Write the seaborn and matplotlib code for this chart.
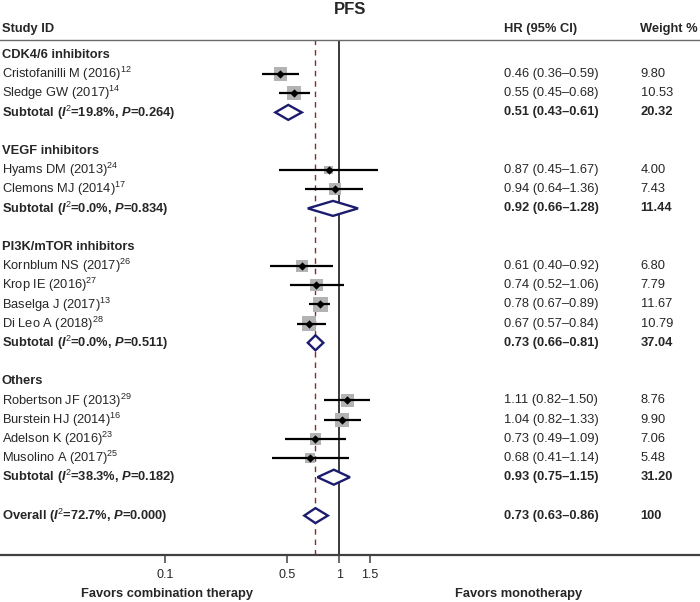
import numpy as np
import pandas as pd
import matplotlib
matplotlib.use("Agg")
import matplotlib.pyplot as plt
from matplotlib.transforms import blended_transform_factory
import seaborn as sns

# ---------------- data ----------------
groups = ["CDK4/6 inhibitors", "VEGF inhibitors", "PI3K/mTOR inhibitors", "Others"]

study_labels = [
    "Cristofanilli M (2016)", "Sledge GW (2017)",
    "Hyams DM (2013)", "Clemons MJ (2014)",
    "Kornblum NS (2017)", "Krop IE (2016)", "Baselga J (2017)", "Di Leo A (2018)",
    "Robertson JF (2013)", "Burstein HJ (2014)", "Adelson K (2016)", "Musolino A (2017)",
]
study_refs = ["12", "14", "24", "17", "26", "27", "13", "28", "29", "16", "23", "25"]
study_group = [0, 0, 1, 1, 2, 2, 2, 2, 3, 3, 3, 3]
study_hr = [0.46, 0.55, 0.87, 0.94, 0.61, 0.74, 0.78, 0.67, 1.11, 1.04, 0.73, 0.68]
study_lo = [0.36, 0.45, 0.45, 0.64, 0.40, 0.52, 0.67, 0.57, 0.82, 0.82, 0.49, 0.41]
study_hi = [0.59, 0.68, 1.67, 1.36, 0.92, 1.06, 0.89, 0.84, 1.50, 1.33, 1.09, 1.14]
study_w = [9.80, 10.53, 4.00, 7.43, 6.80, 7.79, 11.67, 10.79, 8.76, 9.90, 7.06, 5.48]

sub_i2 = ["19.8", "0.0", "0.0", "38.3"]
sub_p = ["0.264", "0.834", "0.511", "0.182"]
sub_hr = [0.51, 0.92, 0.73, 0.93]
sub_lo = [0.43, 0.66, 0.66, 0.75]
sub_hi = [0.61, 1.28, 0.81, 1.15]
sub_w = [20.32, 11.44, 37.04, 31.20]

overall_i2 = "72.7"
overall_p = "0.000"
overall_hr = 0.73
overall_lo = 0.63
overall_hi = 0.86
overall_w = 100

tick_values = [0.1, 0.5, 1, 1.5]
tick_labels = ["0.1", "0.5", "1", "1.5"]

# ---------------- style ----------------
sns.set_theme(style="white")
plt.rcParams["font.family"] = ["Liberation Sans", "DejaVu Sans"]
plt.rcParams["mathtext.fontset"] = "custom"
plt.rcParams["mathtext.rm"] = "Liberation Sans"
plt.rcParams["mathtext.it"] = "Liberation Sans:italic"
plt.rcParams["mathtext.bf"] = "Liberation Sans:bold"
plt.rcParams["mathtext.bfit"] = "Liberation Sans:bold:italic"

FS = 9.3
W, H = 700, 602
fig = plt.figure(figsize=(7, 6.02), dpi=100)

# row geometry (pixel y = ROW0 + ROWH * k)
ROW0, ROWH = 54.8, 19.2
top_px, bot_px = 40, 555
k_top = (top_px - ROW0) / ROWH
k_bot = (bot_px - ROW0) / ROWH
ax = fig.add_axes([0, 1 - bot_px / H, 1, (bot_px - top_px) / H])

# x scale: log, 1 at px 339.3, 75.8 px per ln unit
X1, PXL = 339.3, 75.8
ax.set_xscale("log")
ax.set_xlim(np.exp(-X1 / PXL), np.exp((W - X1) / PXL))
ax.set_ylim(k_bot, k_top)

# build rows
rows_study = []
rows_sub = []
header_rows = []
k = 0
for g in range(len(groups)):
    header_rows.append(k)
    k += 1
    for i, sg in enumerate(study_group):
        if sg == g:
            rows_study.append(k)
            k += 1
    rows_sub.append(k)
    k += 2
row_overall = k

df = pd.DataFrame({
    "label": study_labels, "hr": study_hr, "lo": study_lo, "hi": study_hi,
    "w": study_w, "row": rows_study,
})

# reference lines
ax.axvline(1, color="#3a3a3a", lw=1.4, zorder=1)
ax.axvline(overall_hr, color="#8b2a2a", lw=1.0, ls=(0, (4, 3.5)), zorder=1)

# study squares sized by weight (area proportional)
sns.scatterplot(data=df, x="hr", y="row", size="w", sizes=(0, 1000), size_norm=(0, 100),
                marker="s", color="#b3b3b3", linewidth=0, legend=False, ax=ax, zorder=2)
ax.hlines(df["row"], df["lo"], df["hi"], color="black", lw=1.6, zorder=3)
sns.scatterplot(data=df, x="hr", y="row", marker="D", color="black", s=18,
                linewidth=0, legend=False, ax=ax, zorder=4)

# diamonds
def diamond(row, hr, lo, hi):
    h = 0.39
    ax.fill([lo, hr, hi, hr, lo], [row, row - h, row, row + h, row],
            facecolor="white", edgecolor="#1c1c6e", lw=1.7, zorder=5, joinstyle="miter")

for g in range(len(groups)):
    diamond(rows_sub[g], sub_hr[g], sub_lo[g], sub_hi[g])
diamond(row_overall, overall_hr, overall_lo, overall_hi)

# spines / ticks
for s in ["left", "right"]:
    ax.spines[s].set_visible(False)
ax.spines["top"].set_color("#6a6a6a")
ax.spines["top"].set_linewidth(1.0)
ax.spines["bottom"].set_color("#404040")
ax.spines["bottom"].set_linewidth(1.6)
ax.set_yticks([])
ax.xaxis.set_minor_locator(matplotlib.ticker.NullLocator())
ax.set_xticks(tick_values)
ax.set_xticklabels(tick_labels)
ax.tick_params(axis="x", which="major", direction="out", length=5.8, width=1.1,
               color="#404040", labelsize=9, pad=4, bottom=True)
ax.set_xlabel("")
ax.set_ylabel("")

# texts
tr = blended_transform_factory(ax.transAxes, ax.transData)
X_LAB, X_HR, X_W = 2 / W, 504 / W, 640.5 / W

def fmt_ci(hr, lo, hi):
    return f"{hr:.2f} ({lo:.2f}\u2013{hi:.2f})"

for g, r in enumerate(header_rows):
    ax.text(X_LAB, r, groups[g], transform=tr, ha="left", va="center",
            fontsize=FS, fontweight="bold")

for i in range(len(df)):
    r = rows_study[i]
    ax.text(X_LAB, r, study_labels[i] + r"$^{\mathrm{" + study_refs[i] + "}}$",
            transform=tr, ha="left", va="center", fontsize=FS)
    ax.text(X_HR, r, fmt_ci(study_hr[i], study_lo[i], study_hi[i]),
            transform=tr, ha="left", va="center", fontsize=FS)
    ax.text(X_W, r, f"{study_w[i]:.2f}", transform=tr, ha="left", va="center", fontsize=FS)

for g in range(len(groups)):
    r = rows_sub[g]
    lab = (r"Subtotal ($\mathbfit{I}^{\mathrm{2}}$=" + sub_i2[g] + r"%, $\mathbfit{P}$="
           + sub_p[g] + ")")
    ax.text(X_LAB, r, lab, transform=tr, ha="left", va="center", fontsize=FS,
            fontweight="bold")
    ax.text(X_HR, r, fmt_ci(sub_hr[g], sub_lo[g], sub_hi[g]), transform=tr,
            ha="left", va="center", fontsize=FS, fontweight="bold")
    ax.text(X_W, r, f"{sub_w[g]:.2f}", transform=tr, ha="left", va="center",
            fontsize=FS, fontweight="bold")

lab = (r"Overall ($\mathbfit{I}^{\mathrm{2}}$=" + overall_i2 + r"%, $\mathbfit{P}$="
       + overall_p + ")")
ax.text(X_LAB, row_overall, lab, transform=tr, ha="left", va="center", fontsize=FS,
        fontweight="bold")
ax.text(X_HR, row_overall, fmt_ci(overall_hr, overall_lo, overall_hi), transform=tr,
        ha="left", va="center", fontsize=FS, fontweight="bold")
ax.text(X_W, row_overall, f"{overall_w}", transform=tr, ha="left", va="center",
        fontsize=FS, fontweight="bold")

# headers
fig.text(0.5, 1 - 10 / H, "PFS", ha="center", va="center", fontsize=12, fontweight="bold")
fig.text(X_LAB, 1 - 29 / H, "Study ID", ha="left", va="center", fontsize=FS, fontweight="bold")
fig.text(X_HR, 1 - 29 / H, "HR (95% CI)", ha="left", va="center", fontsize=FS, fontweight="bold")
fig.text(X_W, 1 - 29 / H, "Weight %", ha="left", va="center", fontsize=FS, fontweight="bold")

fig.text(167 / W, 1 - 594 / H, "Favors combination therapy", ha="center", va="center",
         fontsize=FS, fontweight="bold")
fig.text(518.5 / W, 1 - 594 / H, "Favors monotherapy", ha="center", va="center",
         fontsize=FS, fontweight="bold")

fig.savefig("out.png", dpi=100)
